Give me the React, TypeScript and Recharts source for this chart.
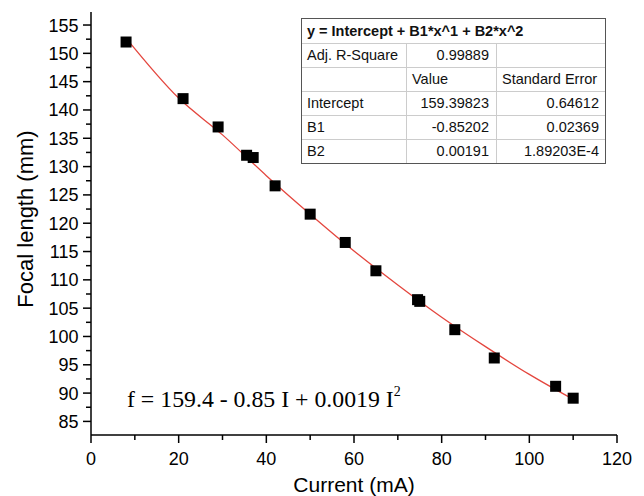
import React from "react";
import { ComposedChart, Scatter, Line, XAxis, YAxis } from "recharts";

// measured points
const currentMA = [8, 21, 29, 35.5, 37, 42, 50, 58, 65, 74.5, 75, 83, 92, 106, 110];
const focalMM = [152, 142, 137, 132, 131.6, 126.6, 121.6, 116.6, 111.6, 106.5, 106.2, 101.2, 96.2, 91.2, 89.1];

// red fit curve
const fitCurrent = [8, 20, 30, 40, 50, 60, 70, 80, 90, 100, 110];
const fitFocal = [152.7, 142.1, 135.6, 128.4, 121.6, 115.1, 109.1, 103.4, 98.2, 93.3, 88.9];

const xMajor = [0, 20, 40, 60, 80, 100, 120];
const xMinor = [10, 30, 50, 70, 90, 110];
const yMajor = [85, 90, 95, 100, 105, 110, 115, 120, 125, 130, 135, 140, 145, 150, 155];
const yMinor = [87.5, 92.5, 97.5, 102.5, 107.5, 112.5, 117.5, 122.5, 127.5, 132.5, 137.5, 142.5, 147.5, 152.5];

const fitTitle = "y = Intercept + B1*x^1 + B2*x^2";
const statRows = [
  ["Adj. R-Square", "0.99889", ""],
  ["", "Value", "Standard Error"],
  ["Intercept", "159.39823", "0.64612"],
  ["B1", "-0.85202", "0.02369"],
  ["B2", "0.00191", "1.89203E-4"],
];

const points = currentMA.map((x, i) => ({ x, y: focalMM[i] }));
const fitData = fitCurrent.map((x, i) => ({ x, y: fitFocal[i] }));
const xTicks = [...xMajor, ...xMinor].sort((a, b) => a - b);
const yTicks = [...yMajor, ...yMinor].sort((a, b) => a - b);

const sans = "'Liberation Sans', Arial, sans-serif";
const serif = "'Liberation Serif', 'Times New Roman', serif";

const BottomTick = ({ x, y, payload }: any) => {
  const major = xMajor.includes(payload.value);
  return (
    <g>
      <line x1={x} x2={x} y1={y} y2={y + (major ? 8 : 5)} stroke="#000" strokeWidth={1.5} />
      {major && (
        <text x={x} y={y + 30} textAnchor="middle" fontSize={18} fontFamily={sans} fill="#000">
          {payload.value}
        </text>
      )}
    </g>
  );
};

const TopTick = ({ x, y, payload }: any) => {
  const major = xMajor.includes(payload.value);
  return <line x1={x} x2={x} y1={y} y2={y + (major ? 8 : 5)} stroke="#000" strokeWidth={1.5} />;
};

const LeftTick = ({ x, y, payload }: any) => {
  const major = yMajor.includes(payload.value);
  return (
    <g>
      <line x1={x} x2={x - (major ? 8 : 5)} y1={y} y2={y} stroke="#000" strokeWidth={1.5} />
      {major && (
        <text x={x - 12.5} y={y + 6.5} textAnchor="end" fontSize={18} fontFamily={sans} fill="#000">
          {payload.value}
        </text>
      )}
    </g>
  );
};

const RightTick = ({ x, y, payload }: any) => {
  const major = yMajor.includes(payload.value);
  return <line x1={x} x2={x - (major ? 8 : 5)} y1={y} y2={y} stroke="#000" strokeWidth={1.5} />;
};

const YTitle = () => (
  <text transform="translate(33,219) rotate(-90)" textAnchor="middle" fontSize={22} fontFamily={sans} fill="#000">
    Focal length (mm)
  </text>
);

const XTitle = () => (
  <text x={354} y={492} textAnchor="middle" fontSize={21} fontFamily={sans} fill="#000">
    Current (mA)
  </text>
);

const Square = (p: any) => <rect x={p.cx - 5.5} y={p.cy - 5.5} width={11} height={11} fill="#000" />;

export default function App() {
  return (
    <div style={{ position: "absolute", left: 0, top: 0, width: 644, height: 496, background: "#fff" }}>
      <ComposedChart width={644} height={496} margin={{ top: 12, right: 27, bottom: 0, left: 0 }}>
        <XAxis
          dataKey="x"
          type="number"
          domain={[0, 120]}
          ticks={xTicks}
          interval={0}
          height={61}
          tickSize={0}
          tickMargin={0}
          tickLine={false}
          tick={<BottomTick />}
          axisLine={{ stroke: "#000", strokeWidth: 1.5 }}
          label={<XTitle />}
        />
        <XAxis
          xAxisId="top"
          orientation="top"
          dataKey="x"
          type="number"
          domain={[0, 120]}
          ticks={xTicks}
          interval={0}
          height={0}
          tickSize={0}
          tickMargin={0}
          tickLine={false}
          tick={<TopTick />}
          axisLine={{ stroke: "#000", strokeWidth: 1.5 }}
        />
        <YAxis
          dataKey="y"
          type="number"
          domain={[82.6, 157.3]}
          ticks={yTicks}
          interval={0}
          width={91}
          tickSize={0}
          tickMargin={0}
          tickLine={false}
          tick={<LeftTick />}
          axisLine={{ stroke: "#000", strokeWidth: 1.5 }}
          label={<YTitle />}
        />
        <YAxis
          yAxisId="right"
          orientation="right"
          dataKey="y"
          type="number"
          domain={[82.6, 157.3]}
          ticks={yTicks}
          interval={0}
          width={0}
          tickSize={0}
          tickMargin={0}
          tickLine={false}
          tick={<RightTick />}
          axisLine={{ stroke: "#000", strokeWidth: 1.5 }}
        />
        <Line
          data={fitData}
          xAxisId="top"
          yAxisId="right"
          dataKey="y"
          type="monotone"
          stroke="#e4463e"
          strokeWidth={1.3}
          dot={false}
          isAnimationActive={false}
        />
        <Scatter data={points} dataKey="y" shape={<Square />} isAnimationActive={false} />
      </ComposedChart>

      <svg width={644} height={496} style={{ position: "absolute", left: 0, top: 0, pointerEvents: "none" }}>
        <text x={127} y={407} fontSize={23.8} fontFamily={serif} fill="#000">
          f = 159.4 - 0.85 I + 0.0019 I
          <tspan fontSize={14} dy={-11}>2</tspan>
        </text>
      </svg>

      <div
        style={{
          position: "absolute",
          left: 301,
          top: 18,
          width: 305,
          boxSizing: "border-box",
          border: "1px solid #555",
          background: "#fff",
          fontFamily: sans,
          fontSize: 14.5,
          color: "#111",
        }}
      >
        <div style={{ height: 24, lineHeight: "24px", paddingLeft: 5, fontWeight: "bold", borderBottom: "1px solid #ccc" }}>
          {fitTitle}
        </div>
        {statRows.map((row, i) => {
          const align = i === 1 ? "left" : "right";
          return (
            <div
              key={i}
              style={{ display: "flex", height: 23, lineHeight: "23px", borderBottom: i < statRows.length - 1 ? "1px solid #ccc" : "none" }}
            >
              <div style={{ width: 105, boxSizing: "border-box", paddingLeft: 5, borderRight: "1px solid #ccc" }}>{row[0]}</div>
              <div style={{ width: 90, boxSizing: "border-box", padding: "0 7px 0 5px", textAlign: align, borderRight: "1px solid #ccc" }}>
                {row[1]}
              </div>
              <div style={{ flex: 1, boxSizing: "border-box", padding: "0 6px 0 5px", textAlign: align }}>{row[2]}</div>
            </div>
          );
        })}
      </div>
    </div>
  );
}
